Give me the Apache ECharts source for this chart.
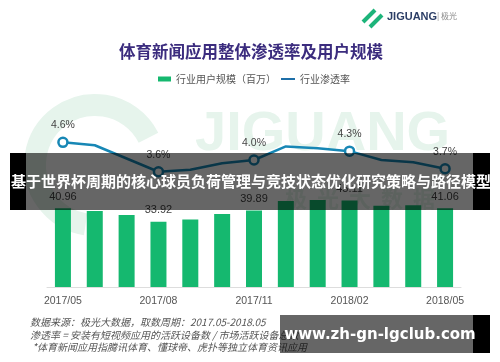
<!DOCTYPE html>
<html>
<head>
<meta charset="utf-8">
<script src="https://cdn.jsdelivr.net/npm/echarts@6/dist/echarts.min.js"></script>
<style>
html,body{margin:0;padding:0;background:#fff;}
#chart{width:500px;height:362px;}
</style>
</head>
<body>
<div id="chart"></div>
<script>
const categories = ['2017/05','2017/06','2017/07','2017/08','2017/09','2017/10','2017/11','2017/12','2018/01','2018/02','2018/03','2018/04','2018/05'];
const userScale = [40.96, 39.6, 37.5, 33.92, 35.2, 38.0, 39.89, 44.8, 45.3, 45.11, 42.3, 42.6, 41.06];
const penetration = [4.6, 4.5, 4.05, 3.6, 3.67, 3.89, 4.0, 4.46, 4.4, 4.3, 4.0, 3.92, 3.7];
const labeledIdx = [0, 3, 6, 9, 12];
const barName = '行业用户规模（百万）';
const lineName = '行业渗透率';
const titleText = '体育新闻应用整体渗透率及用户规模';
const bannerText = '基于世界杯周期的核心球员负荷管理与竞技状态优化研究策略与路径模型';
const siteText = 'www.zh-gn-lgclub.com';
const notes = ['数据来源：极光大数据，取数周期：2017.05-2018.05', '渗透率 = 安装有短视频应用的活跃设备数 / 市场活跃设备总数', ' *体育新闻应用指腾讯体育、懂球帝、虎扑等独立体育资讯应用'];

const FONT = '"Liberation Sans", "Noto Sans CJK SC", sans-serif';
const CJK = '"Noto Sans CJK SC", sans-serif';
const GREEN = '#15b86f';
const BLUE = '#1787b5';

const barData = userScale.map((v, i) => ({
  value: v,
  label: { show: labeledIdx.includes(i) }
}));
const lineData = penetration.map((v, i) => labeledIdx.includes(i)
  ? { value: v, label: { show: true } }
  : { value: v, symbol: 'none', label: { show: false } });

const chart = echarts.init(document.getElementById('chart'), null, { renderer: 'canvas' });
chart.setOption({
  animation: false,
  backgroundColor: '#fff',
  textStyle: { fontFamily: FONT },
  title: {
    text: titleText, left: 114, top: 38,
    textStyle: { fontSize: 16.5, fontWeight: 'bold', color: '#3b2c7e', fontFamily: CJK }
  },
  legend: [
    { data: [barName], icon: 'rect', left: 153, top: 69, itemWidth: 13, itemHeight: 5,
      textStyle: { fontSize: 10, color: '#555', fontFamily: CJK } },
    { data: [lineName], icon: 'rect', left: 276, top: 69, itemWidth: 14, itemHeight: 2,
      itemStyle: { color: '#1e6fa8', borderWidth: 0 },
      textStyle: { fontSize: 10, color: '#555', fontFamily: CJK } }
  ],
  grid: { left: 47, right: 39, top: 95, bottom: 75 },
  xAxis: {
    type: 'category', data: categories,
    axisLine: { lineStyle: { color: '#ddd' } },
    axisTick: { show: false },
    axisLabel: { interval: 2, color: '#555', fontSize: 10.5, margin: 9 }
  },
  yAxis: [
    { type: 'value', min: 0, max: 100, show: false, splitLine: { show: false } },
    { type: 'value', min: -0.32, max: 6.21, show: false, splitLine: { show: false } }
  ],
  series: [
    { name: barName, type: 'bar', data: barData, barWidth: 16, yAxisIndex: 0, z: 2,
      legendIcon: 'rect',
      itemStyle: { color: GREEN },
      label: { position: 'top', distance: 6, color: '#444', fontSize: 11,
        formatter: p => p.value.toFixed(2) } },
    { name: lineName, type: 'line', data: lineData, yAxisIndex: 1, z: 3,
      legendIcon: 'rect',
      symbol: 'circle', symbolSize: 9, showAllSymbol: true,
      lineStyle: { color: BLUE, width: 2.5 },
      itemStyle: { color: '#fff', borderColor: BLUE, borderWidth: 2.5 },
      label: { position: 'top', distance: 6, color: '#444', fontSize: 10.5,
        formatter: p => p.value.toFixed(1) + '%' } }
  ],
  graphic: [
    // watermark
    { type: 'arc', z: -10, shape: { cx: 95, cy: 165, r: 60, startAngle: Math.PI * 0.55, endAngle: Math.PI * 1.85 },
      style: { stroke: '#e6f4ec', lineWidth: 22, fill: null } },
    { type: 'text', z: -10, left: 195, top: 107,
      style: { text: 'JIGUANG', font: 'bold 56px "Liberation Sans", sans-serif', fill: '#e6f4ec' } },
    { type: 'text', z: -10, left: 285, top: 188,
      style: { text: '极  光  大  数  据', font: 'bold 22px "Noto Sans CJK SC", sans-serif', fill: '#e6f4ec' } },
    // logo
    { type: 'line', z: 5, shape: { x1: 363, y1: 22, x2: 375, y2: 10 }, style: { stroke: '#1db47a', lineWidth: 4 } },
    { type: 'line', z: 5, shape: { x1: 370, y1: 27, x2: 382, y2: 15 }, style: { stroke: '#1db47a', lineWidth: 4 } },
    { type: 'text', z: 5, left: 387, top: 11,
      style: { text: 'JIGUANG', font: 'bold 11px "Liberation Sans", sans-serif', fill: '#2c3e66' } },
    { type: 'text', z: 5, left: 437, top: 12,
      style: { text: '| 极光', font: '8px "Noto Sans CJK SC", sans-serif', fill: '#888' } },
    // notes
    { type: 'text', z: 5, left: 30, top: 317,
      style: { text: notes[0], font: 'italic 10px "Noto Sans CJK SC", sans-serif', fill: '#555' } },
    { type: 'text', z: 5, left: 30, top: 330,
      style: { text: notes[1], font: 'italic 10px "Noto Sans CJK SC", sans-serif', fill: '#555' } },
    { type: 'text', z: 5, left: 30, top: 342,
      style: { text: notes[2], font: 'italic 10px "Noto Sans CJK SC", sans-serif', fill: '#555' } },
    // overlay banners
    { type: 'rect', z: 100, shape: { x: 26, y: 153, width: 447, height: 57 }, style: { fill: 'rgba(0,0,0,0.6)' } },
    { type: 'rect', z: 100, shape: { x: 10, y: 153, width: 16, height: 57 }, style: { fill: '#000' } },
    { type: 'rect', z: 100, shape: { x: 473, y: 153, width: 17, height: 57 }, style: { fill: '#000' } },
    { type: 'text', z: 101, x: 251, y: 181,
      style: { text: bannerText, font: 'bold 15px "Noto Sans CJK SC", sans-serif', fill: '#fff', align: 'center', verticalAlign: 'middle' } },
    { type: 'rect', z: 100, shape: { x: 280, y: 315, width: 193, height: 38 }, style: { fill: 'rgba(0,0,0,0.6)' } },
    { type: 'rect', z: 100, shape: { x: 473, y: 315, width: 17, height: 38 }, style: { fill: '#000' } },
    { type: 'text', z: 101, x: 380, y: 335,
      style: { text: siteText, font: 'bold 15px "DejaVu Sans", sans-serif', fill: '#fff', align: 'center', verticalAlign: 'middle' } }
  ]
});
</script>
</body>
</html>
